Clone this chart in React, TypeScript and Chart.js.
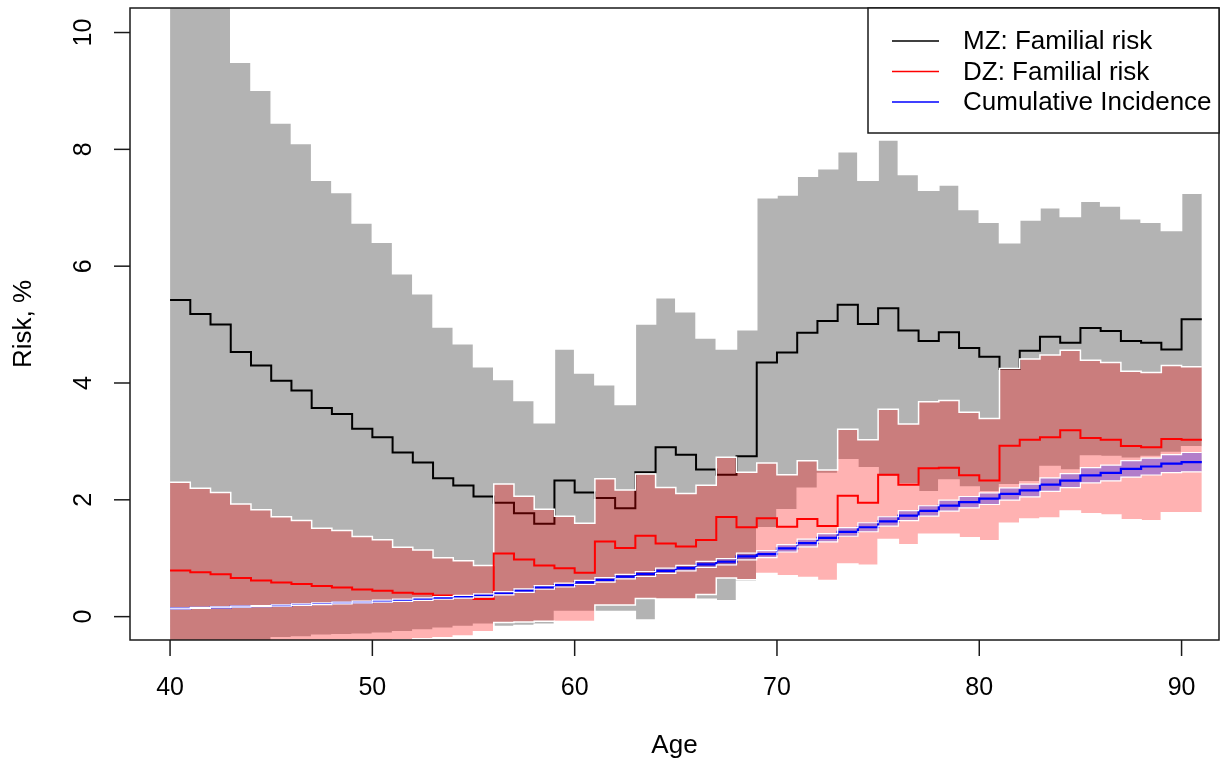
import React, { useEffect, useRef } from 'react';
import { Chart, registerables } from 'chart.js';

Chart.register(...registerables);

// Age at the start of each one-year step (the last step ends at 91)
const ages = [40, 41, 42, 43, 44, 45, 46, 47, 48, 49, 50, 51, 52, 53, 54, 55, 56, 57, 58, 59, 60, 61, 62, 63, 64, 65, 66, 67, 68, 69, 70, 71, 72, 73, 74, 75, 76, 77, 78, 79, 80, 81, 82, 83, 84, 85, 86, 87, 88, 89, 90];

// MZ: familial risk and its confidence band
const mzRisk = [5.42, 5.18, 5.0, 4.53, 4.3, 4.04, 3.87, 3.57, 3.47, 3.215, 3.07, 2.81, 2.64, 2.37, 2.245, 2.056, 1.95, 1.77, 1.59, 2.33, 2.125, 2.03, 1.856, 2.47, 2.9, 2.77, 2.52, 2.43, 2.745, 4.35, 4.52, 4.86, 5.06, 5.34, 5.01, 5.28, 4.9, 4.72, 4.87, 4.6, 4.45, 4.24, 4.55, 4.79, 4.69, 4.94, 4.89, 4.72, 4.69, 4.575, 5.09];
const mzUpper = [12.5, 11.8, 11.2, 9.49, 9.01, 8.45, 8.1, 7.47, 7.26, 6.74, 6.41, 5.87, 5.53, 4.96, 4.67, 4.28, 4.06, 3.7, 3.32, 4.58, 4.17, 3.97, 3.63, 5.01, 5.46, 5.22, 4.77, 4.58, 4.91, 7.17, 7.22, 7.54, 7.67, 7.96, 7.47, 8.16, 7.57, 7.3, 7.39, 6.97, 6.75, 6.4, 6.79, 7.0, 6.85, 7.11, 7.03, 6.81, 6.75, 6.61, 7.25];
const mzLower = [-1.0, -0.95, -0.9, -0.85, -0.8, -0.36, -0.35, -0.32, -0.31, -0.3, -0.285, -0.26, -0.23, -0.2, -0.17, -0.13, -0.17, -0.15, -0.13, 0.086, 0.086, 0.086, 0.086, -0.057, 0.29, 0.29, 0.297, 0.27, 0.6, 1.52, 1.83, 2.2, 2.45, 2.685, 2.55, 2.4, 2.27, 2.14, 2.34, 2.22, 2.14, 2.26, 2.31, 2.57, 2.51, 2.75, 2.74, 2.71, 2.74, 2.81, 2.91];

// DZ: familial risk and its confidence band
const dzRisk = [0.79, 0.76, 0.725, 0.66, 0.62, 0.585, 0.56, 0.526, 0.5, 0.465, 0.445, 0.41, 0.39, 0.36, 0.345, 0.3, 1.08, 0.98, 0.875, 0.83, 0.75, 1.285, 1.175, 1.385, 1.25, 1.2, 1.31, 1.705, 1.53, 1.685, 1.54, 1.67, 1.55, 2.07, 1.95, 2.43, 2.26, 2.54, 2.55, 2.42, 2.33, 2.925, 3.03, 3.07, 3.19, 3.06, 3.03, 2.92, 2.9, 3.04, 3.03];
const dzUpper = [2.3, 2.2, 2.125, 1.93, 1.83, 1.71, 1.645, 1.515, 1.475, 1.37, 1.315, 1.19, 1.14, 1.01, 0.955, 0.875, 2.27, 2.06, 1.84, 1.72, 1.6, 2.36, 2.17, 2.44, 2.21, 2.11, 2.25, 2.73, 2.47, 2.63, 2.43, 2.67, 2.51, 3.21, 3.03, 3.55, 3.3, 3.68, 3.7, 3.5, 3.39, 4.25, 4.41, 4.48, 4.56, 4.39, 4.35, 4.2, 4.18, 4.3, 4.28];
const dzLower = [-1.6, -1.5, -1.4, -1.3, -1.2, -0.6, -0.55, -0.5, -0.48, -0.45, -0.42, -0.4, -0.38, -0.36, -0.33, -0.26, -0.1, -0.09, -0.08, -0.085, -0.085, 0.2, 0.2, 0.31, 0.3, 0.3, 0.38, 0.66, 0.63, 0.74, 0.7, 0.67, 0.62, 0.9, 0.88, 1.32, 1.23, 1.41, 1.41, 1.35, 1.3, 1.6, 1.67, 1.69, 1.81, 1.76, 1.74, 1.66, 1.64, 1.78, 1.78];

// Cumulative incidence and its confidence band
const cumInc = [0.14, 0.15, 0.16, 0.17, 0.18, 0.19, 0.205, 0.22, 0.235, 0.25, 0.265, 0.28, 0.3, 0.32, 0.34, 0.365, 0.4, 0.445, 0.5, 0.54, 0.585, 0.63, 0.685, 0.73, 0.785, 0.83, 0.895, 0.94, 1.03, 1.07, 1.17, 1.26, 1.35, 1.45, 1.53, 1.63, 1.73, 1.81, 1.9, 1.96, 2.02, 2.1, 2.16, 2.26, 2.33, 2.42, 2.46, 2.53, 2.57, 2.62, 2.645];
const cumUpper = [0.148, 0.158, 0.168, 0.179, 0.19, 0.202, 0.218, 0.234, 0.25, 0.266, 0.283, 0.299, 0.32, 0.342, 0.364, 0.39, 0.427, 0.474, 0.531, 0.573, 0.62, 0.668, 0.725, 0.773, 0.83, 0.878, 0.946, 0.994, 1.087, 1.13, 1.233, 1.327, 1.42, 1.524, 1.607, 1.71, 1.815, 1.898, 1.993, 2.057, 2.12, 2.205, 2.27, 2.375, 2.45, 2.55, 2.595, 2.67, 2.715, 2.775, 2.81];
const cumLower = [0.132, 0.142, 0.152, 0.161, 0.17, 0.178, 0.192, 0.206, 0.22, 0.234, 0.247, 0.261, 0.28, 0.298, 0.316, 0.34, 0.373, 0.416, 0.469, 0.507, 0.55, 0.592, 0.645, 0.687, 0.74, 0.782, 0.844, 0.886, 0.973, 1.01, 1.107, 1.193, 1.28, 1.376, 1.453, 1.55, 1.645, 1.722, 1.807, 1.863, 1.92, 1.995, 2.05, 2.145, 2.21, 2.29, 2.325, 2.39, 2.425, 2.465, 2.48];

const xTicks = [40, 50, 60, 70, 80, 90];
const yTicks = [0, 2, 4, 6, 8, 10];
const legendLabels = ['MZ: Familial risk', 'DZ: Familial risk', 'Cumulative Incidence'];
const legendColors = ['#000000', '#ff0000', '#0000ff'];

const FONT = '"Liberation Sans", Arial, Helvetica, sans-serif';

function steps(vals: number[]) {
  const pts = ages.map((a, i) => ({ x: a, y: vals[i] }));
  pts.push({ x: ages[ages.length - 1] + 1, y: vals[vals.length - 1] });
  return pts;
}

const decorPlugin = {
  id: 'rDecor',
  afterDraw(chart: any) {
    const ctx = chart.ctx as CanvasRenderingContext2D;
    const area = chart.chartArea;
    const xs = chart.scales.x;
    const ys = chart.scales.y;
    ctx.save();
    ctx.strokeStyle = '#1a1a1a';
    ctx.lineWidth = 1.5;
    ctx.strokeRect(area.left, area.top, area.right - area.left, area.bottom - area.top);

    ctx.fillStyle = '#000';
    ctx.font = `25px ${FONT}`;
    // x ticks
    ctx.textAlign = 'center';
    ctx.textBaseline = 'middle';
    xTicks.forEach((t) => {
      const px = xs.getPixelForValue(t);
      ctx.beginPath();
      ctx.moveTo(px, area.bottom);
      ctx.lineTo(px, area.bottom + 16);
      ctx.stroke();
      ctx.fillText(String(t), px, 688);
    });
    // y ticks
    yTicks.forEach((t) => {
      const py = ys.getPixelForValue(t);
      ctx.beginPath();
      ctx.moveTo(area.left, py);
      ctx.lineTo(area.left - 16, py);
      ctx.stroke();
      ctx.save();
      ctx.translate(84, py);
      ctx.rotate(-Math.PI / 2);
      ctx.textAlign = 'center';
      ctx.textBaseline = 'middle';
      ctx.fillText(String(t), 0, 0);
      ctx.restore();
    });
    // axis titles
    ctx.font = `26px ${FONT}`;
    ctx.textAlign = 'center';
    ctx.textBaseline = 'alphabetic';
    ctx.fillText('Age', (area.left + area.right) / 2, 753);
    ctx.save();
    ctx.translate(31, (area.top + area.bottom) / 2);
    ctx.rotate(-Math.PI / 2);
    ctx.fillText('Risk, %', 0, 0);
    ctx.restore();

    // legend
    const lx = 868;
    const ly = area.top;
    const lw = area.right - lx;
    const lh = 133 - ly;
    ctx.fillStyle = '#ffffff';
    ctx.fillRect(lx, ly, lw, lh);
    ctx.strokeStyle = '#1a1a1a';
    ctx.lineWidth = 1.5;
    ctx.strokeRect(lx, ly, lw, lh);
    ctx.font = `26px ${FONT}`;
    ctx.textAlign = 'left';
    ctx.textBaseline = 'middle';
    legendLabels.forEach((lab, i) => {
      const y = 41 + i * 30.5;
      ctx.strokeStyle = legendColors[i];
      ctx.lineWidth = 1.5;
      ctx.beginPath();
      ctx.moveTo(892, y);
      ctx.lineTo(939, y);
      ctx.stroke();
      ctx.fillStyle = '#000';
      ctx.fillText(lab, 963, y + 1);
    });
    ctx.restore();
  },
};

export default function App() {
  const ref = useRef<HTMLCanvasElement | null>(null);

  useEffect(() => {
    document.body.style.margin = '0';
    const canvas = ref.current;
    if (!canvas) return;
    const base = { stepped: true, pointRadius: 0, pointHoverRadius: 0, tension: 0 } as any;
    const chart = new Chart(canvas, {
      type: 'line',
      data: {
        datasets: [
          { ...base, label: 'mzUpper', data: steps(mzUpper), borderColor: '#ffffff', borderWidth: 1.5, backgroundColor: '#b3b3b3', fill: '+1', order: 9 },
          { ...base, label: 'mzLower', data: steps(mzLower), borderColor: '#ffffff', borderWidth: 1.5, fill: false, order: 8 },
          { ...base, label: 'MZ: Familial risk', data: steps(mzRisk), borderColor: '#000000', borderWidth: 2, fill: false, order: 7 },
          { ...base, label: 'dzUpper', data: steps(dzUpper), borderColor: '#ffffff', borderWidth: 1.5, backgroundColor: 'rgba(255,0,0,0.3)', fill: '+1', order: 6 },
          { ...base, label: 'dzLower', data: steps(dzLower), borderColor: '#ffffff', borderWidth: 1.5, fill: false, order: 5 },
          { ...base, label: 'DZ: Familial risk', data: steps(dzRisk), borderColor: '#ff0000', borderWidth: 2, fill: false, order: 4 },
          { ...base, label: 'Cumulative Incidence', data: steps(cumInc), borderColor: '#0000ff', borderWidth: 2.2, fill: false, order: 3 },
          { ...base, label: 'cumUpper', data: steps(cumUpper), borderColor: '#ffffff', borderWidth: 1.2, backgroundColor: 'rgba(0,0,255,0.3)', fill: '+1', order: 2 },
          { ...base, label: 'cumLower', data: steps(cumLower), borderColor: '#ffffff', borderWidth: 1.2, fill: false, order: 1 },
        ],
      },
      options: {
        responsive: false,
        animation: false,
        devicePixelRatio: 1,
        events: [],
        layout: { padding: { left: 130, top: 8, right: 1, bottom: 127 } },
        scales: {
          x: { type: 'linear', min: 38.02, max: 91.85, display: false },
          y: { type: 'linear', min: -0.4, max: 10.42, display: false },
        },
        plugins: {
          legend: { display: false },
          tooltip: { enabled: false },
          filler: { drawTime: 'beforeDatasetDraw' },
        } as any,
      },
      plugins: [decorPlugin],
    });
    return () => chart.destroy();
  }, []);

  return (
    <div style={{ position: 'fixed', left: 0, top: 0, width: 1220, height: 767, background: '#fff' }}>
      <canvas ref={ref} width={1220} height={767} />
    </div>
  );
}
